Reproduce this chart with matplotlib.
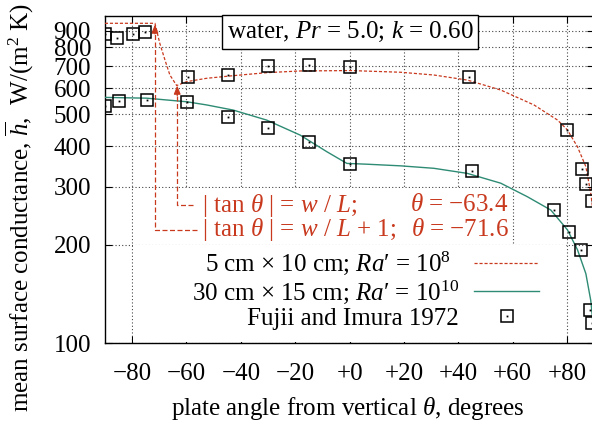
import matplotlib
matplotlib.use("Agg")
import matplotlib.pyplot as plt
from matplotlib.patches import Rectangle
from matplotlib.legend_handler import HandlerTuple

plt.rcParams['font.family'] = ['Liberation Serif', 'DejaVu Serif']
plt.rcParams['mathtext.fontset'] = 'custom'
plt.rcParams['mathtext.rm'] = 'Liberation Serif'
plt.rcParams['mathtext.it'] = 'Liberation Serif:italic'
plt.rcParams['mathtext.bf'] = 'Liberation Serif:bold'
FS = 18

# 5 cm x 10 cm plate, Ra' = 1e8
small_theta = [-90, -71.6, -69.8, -67.9, -66.1, -63.6, -59.9, -52.6, -42.8, -30.5,
               -18.2, 0.3, 18.7, 31.0, 43.3, 55.6, 67.8, 76.5, 80.1, 83.8,
               86.9, 88.7, 89.6]
small_h = [948, 948, 823, 732, 659, 612, 629, 644, 656, 670,
           678, 680, 672, 659, 636, 593, 534, 480, 448, 398,
           346, 287, 250]

# 30 cm x 15 cm plate, Ra' = 1e10
large_theta = [-90, -74.7, -59.9, -52.6, -42.8, -30.5, -18.2, -8.3, -1.0, 6.4,
               18.7, 31.0, 43.3, 55.6, 65.4, 74.0, 80.1, 83.8, 86.9, 88.7,
               89.4, 89.7]
large_h = [563, 560, 546, 534, 515, 480, 432, 384, 354, 352,
           348, 342, 330, 308, 280, 255, 222, 193, 163, 135,
           118, 100]

# Fujii and Imura (1972) measurements
fujii_theta = [-90, -85.4, -79.5, -75.1, -59.6, -44.7, -30.0, -14.9, 0.1, 44.0,
               79.9, 85.3, 86.9, 89.0,
               -90, -84.9, -74.6, -59.8, -44.7, -30.0, -14.9, 0.1, 45.1,
               75.0, 80.7, 85.0, 88.4, 89.2]
fujii_h = [879, 855, 877, 894, 649, 659, 702, 707, 699, 649,
           448, 340, 306, 272,
           530, 549, 553, 545, 492, 455, 412, 352, 336,
           255, 219, 192, 126, 115]

# critical angles from |tan theta| = w/L and w/L + 1
crit_theta = [-63.4, -71.6]
crit_labels = ['\u221263.4', '\u221271.6']

x_ticks = [-80, -60, -40, -20, 0, 20, 40, 60, 80]
x_labels = ['\u221280', '\u221260', '\u221240', '\u221220', '+0', '+20', '+40', '+60', '+80']
y_ticks = [100, 200, 300, 400, 500, 600, 700, 800, 900]
y_labels = [str(v) for v in y_ticks]

red = '#c8391e'
green = '#2e8b74'

W, H = 592, 422
fig = plt.figure(figsize=(W / 100, H / 100), dpi=100)
x0, x1, y0, y1 = 104.9, 594.3, 15.7, 343.2
ax = fig.add_axes([x0 / W, (H - y1) / H, (x1 - x0) / W, (y1 - y0) / H])

ax.set_yscale('log')
ax.set_xlim(-90, 90)
ax.set_ylim(100, 1000)
ax.set_xticks(x_ticks)
ax.set_xticklabels(x_labels, fontsize=FS)
ax.set_yticks(y_ticks)
ax.set_yticklabels(y_labels, fontsize=FS)
ax.yaxis.set_minor_locator(matplotlib.ticker.NullLocator())
ax.tick_params(axis='both', which='both', direction='in', length=5, width=0.8,
               top=True, right=True)
ax.tick_params(axis='x', pad=14)
ax.tick_params(axis='y', pad=10)
for s in ax.spines.values():
    s.set_linewidth(1.0)

ax.set_axisbelow(True)
ax.grid(True, color='#444444', linestyle=(0, (1, 2)), linewidth=0.8)

# white panels behind the annotation and the key
ax.add_patch(Rectangle((-79.6, 201.5), 139.2, 96, facecolor='white', edgecolor='none', zorder=1.5))
ax.add_patch(Rectangle((-79.6, 100.5), 159.2, 98.5, facecolor='white', edgecolor='none', zorder=1.5))

l_small, = ax.plot(small_theta, small_h, color=red, lw=0.9, ls=(0, (2.5, 1.5)), zorder=3)
l_large, = ax.plot(large_theta, large_h, color=green, lw=1.0, zorder=3)
m_box, = ax.plot(fujii_theta, fujii_h, ls='none', marker='s', ms=8.5, mfc='none',
                 mec='black', mew=1.1, zorder=4)
m_dot, = ax.plot(fujii_theta, fujii_h, ls='none', marker='s', ms=1.3, mfc='black',
                 mec='none', zorder=4)

# critical-angle pointers
ann_y = [264, 222]
ann_x_end = [-57.7, -56.3]
arrow_top = [570, 880]
arrow_tip = [612, 940]
for th, yy, xe, yt, ytip in zip(crit_theta, ann_y, ann_x_end, arrow_top, arrow_tip):
    ax.plot([xe, th, th], [yy, yy, yt], color=red, lw=0.9, ls=(0, (4, 2)), zorder=3)
    ax.annotate('', xy=(th, ytip), xytext=(th, yt),
                arrowprops=dict(arrowstyle='-|>,head_length=0.5,head_width=0.2',
                                color=red, lw=0.9, shrinkA=0, shrinkB=0), zorder=3)

ann_left = [r'| tan $\theta$ | = $w$ / $L$;', r'| tan $\theta$ | = $w$ / $L$ + 1;']
for yy, txt, th_lab in zip(ann_y, ann_left, crit_labels):
    ax.text(-54.4, yy, txt, color=red, fontsize=FS, ha='left', va='center', zorder=5)
    ax.text(58.5, yy, r'$\theta$ = ' + th_lab, color=red, fontsize=FS,
            ha='right', va='center', zorder=5)

# title box
ax.text((350 - x0) / (x1 - x0), (y1 - 31.7) / (y1 - y0),
        r'water, $Pr$ = 5.0; $k$ = 0.60', transform=ax.transAxes,
        fontsize=FS, ha='center', va='center', zorder=6,
        bbox=dict(boxstyle='square,pad=0.2', facecolor='white', edgecolor='black', lw=1.0))

leg = ax.legend([l_small, l_large, (m_box, m_dot)],
                ["5 cm \u00d7 10 cm; $Ra$\u2032 = 10$^8$  ",
                 "30 cm \u00d7 15 cm; $Ra$\u2032 = 10$^{10}$",
                 'Fujii and Imura 1972'],
                handler_map={tuple: HandlerTuple(ndivide=1, pad=0)},
                markerfirst=False, frameon=False, fontsize=FS,
                loc='upper right',
                bbox_to_anchor=((539 - x0) / (x1 - x0), (y1 - 250) / (y1 - y0)),
                borderpad=0, borderaxespad=0, handlelength=2.6, handletextpad=0.6,
                labelspacing=0.05)
leg.set_zorder(6)

fig.text(20 / W, 1 - 208 / H, r'mean surface conductance, $\overline{h}$,  W/(m$^2$ K)',
         rotation=90, ha='center', va='center', fontsize=FS)
fig.text(348 / W, 1 - 408 / H, r'plate angle from vertical $\theta$, degrees',
         ha='center', va='center', fontsize=FS)

fig.savefig('out.png', dpi=100)
